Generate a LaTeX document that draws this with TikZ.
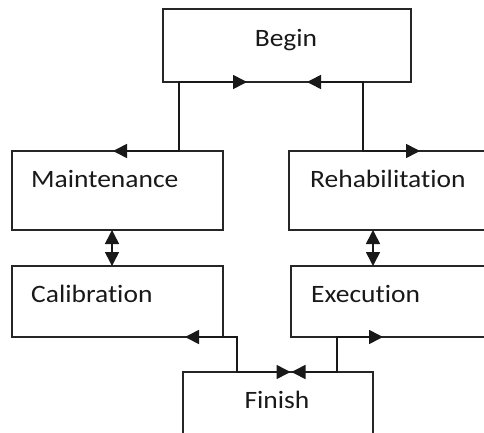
\documentclass[tikz,border=0pt]{standalone}
\usepackage{fontspec}
\usepackage{graphicx}
\setmainfont{Carlito}[Ligatures=NoCommon]
\usetikzlibrary{arrows.meta}
\tikzset{
  box/.style={draw=black!85, line width=1.6pt, rectangle, anchor=north west, outer sep=0pt, inner sep=0pt},
  lbl/.style={inner sep=0pt, font=\fontsize{25}{30}\selectfont, text=black!90},
  conn/.style={draw=black!90, line width=1.6pt,
    {Triangle[length=14pt,width=14pt]}-{Triangle[length=14pt,width=14pt]}},
}
\newcommand{\wlbl}[1]{\scalebox{1.1}[1]{#1}}
\begin{document}
\begin{tikzpicture}[x=1pt,y=-1pt]
\useasboundingbox (0,0) rectangle (484,433);
\clip (0,0) rectangle (484,433);
% boxes
\node[box, minimum width=248pt, minimum height=73pt] (begin) at (163,9) {};
\node[box, minimum width=211pt, minimum height=79pt] (maint) at (12,151) {};
\node[box, minimum width=211pt, minimum height=79pt] (rehab) at (289,151) {};
\node[box, minimum width=211pt, minimum height=71pt] (calib) at (12,266) {};
\node[box, minimum width=211pt, minimum height=71pt] (exec) at (291,266) {};
\node[box, minimum width=190pt, minimum height=75pt] (finish) at (183,372) {};
% labels
\node[lbl, anchor=base] (tbegin) at (286,46.7) {\wlbl{Begin}};
\node[lbl, anchor=base west] (tmaint) at (31,187.3) {\wlbl{Maintenance}};
\node[lbl, anchor=base west] (trehab) at (310,187.3) {\wlbl{Rehabilitation}};
\node[lbl, anchor=base west] (tcalib) at (31,302.3) {\wlbl{Calibration}};
\node[lbl, anchor=base west] (texec) at (311,302.3) {\wlbl{Execution}};
\node[lbl, anchor=base] (tfinish) at (277,408.3) {\wlbl{Finish}};
% connectors
\draw[conn] ([xshift=101pt]maint.north west) -- ([xshift=167pt]maint.north west) |- ([xshift=84pt]begin.south west);
\draw[conn] ([xshift=131pt]rehab.north west) -- ([xshift=74pt]rehab.north west) |- ([xshift=-104pt]begin.south east);
\draw[conn] ([xshift=100pt]maint.south west) -- ([xshift=100pt]calib.north west);
\draw[conn] ([xshift=84pt]rehab.south west) -- ([xshift=82pt]exec.north west);
\draw[conn] ([xshift=173pt]calib.south west) -- ([xshift=225pt]calib.south west) |- ([xshift=107.5pt]finish.north west);
\draw[conn] ([xshift=92pt]exec.south west) -- ([xshift=46pt]exec.south west) |- ([xshift=108.5pt]finish.north west);
\end{tikzpicture}
\end{document}
